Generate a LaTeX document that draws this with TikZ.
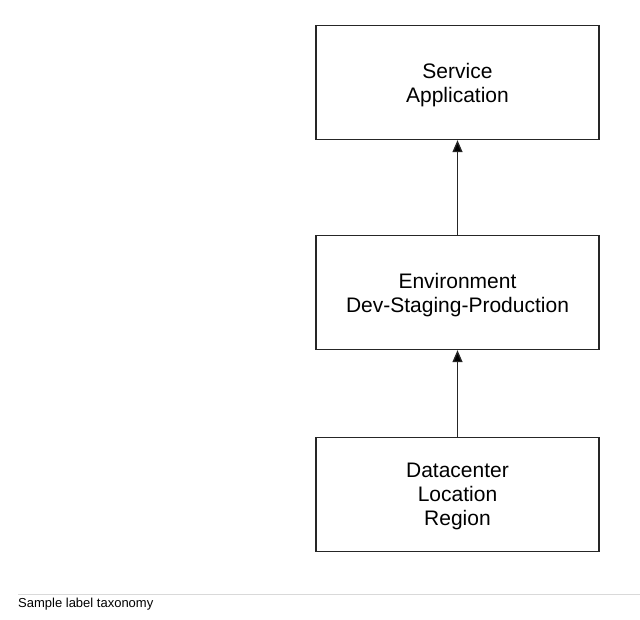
\documentclass[tikz,border=0pt]{standalone}
\usepackage{fontspec}
\setmainfont{Liberation Sans}
\usepackage{xcolor}
\usetikzlibrary{arrows.meta}

\begin{document}
\begin{tikzpicture}[x=1pt,y=-1pt,
		layer/.style={draw=black!85,line width=1.3pt,minimum width=283pt,minimum height=114pt,
			inner sep=0pt,align=center,text depth=0pt,font=\fontsize{21}{24}\selectfont}]
		\useasboundingbox (0,0) rectangle (640,619);
		\node[layer] (S) at (457.5,82.5) {Service\\Application};
		\node[layer] (E) at (457.5,292.5) {Environment\\Dev-Staging-Production};
		\node[layer] (D) at (457.5,494.5) {Datacenter\\Location\\Region};
		%
		\path[-{Triangle[width=10pt,length=12pt]},line width=1.3pt,draw=black!85]
		% vertical arrows
		(D) edge (E)
		(E) edge (S);
		% caption
		\coordinate (L) at (18,594);
		\coordinate (R) at (640,594);
		\draw[black!15,line width=1pt] (L) -- (R);
		\node[anchor=base west,inner sep=0pt,font=\fontsize{13}{15}\selectfont] (cap) at (18,607) {Sample label taxonomy};
	\end{tikzpicture}
\end{document}
